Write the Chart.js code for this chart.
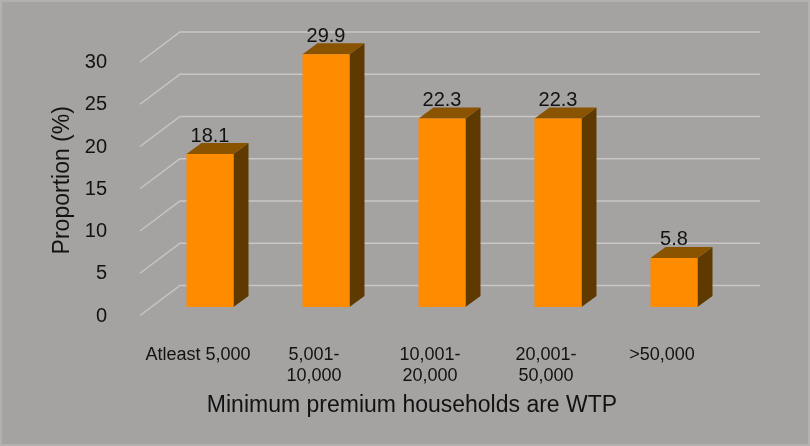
<!DOCTYPE html>
<html lang="en">
<head>
    <meta charset="UTF-8">
    <title>Minimum premium households are WTP</title>
    <script src="https://cdn.jsdelivr.net/npm/chart.js"></script>
    <style>
        html, body {
            margin: 0;
            padding: 0;
            background: #a5a3a2;
        }
        .wrap {
            position: relative;
            width: 810px;
            height: 446px;
        }
        .frame {
            position: absolute;
            left: 0; top: 0; right: 0; bottom: 0;
            border: 2px solid #b3b1b0;
            pointer-events: none;
        }
    </style>
</head>
<body>
    <div class="wrap">
        <canvas id="wtpChart" width="810" height="446"></canvas>
        <div class="frame"></div>
    </div>

    <script>
        // data
        const categories = ['Atleast 5,000', ['5,001-', '10,000'], ['10,001-', '20,000'], ['20,001-', '50,000'], '>50,000'];
        const proportions = [18.1, 29.9, 22.3, 22.3, 5.8];
        const yTickValues = [0, 5, 10, 15, 20, 25, 30];
        const yTitle = 'Proportion (%)';
        const xTitle = 'Minimum premium households are WTP';

        const FONT = '"Liberation Sans", Arial, sans-serif';
        const TEXT = '#121212';
        const GRID = '#c9c7c6';

        // fake 3d: bar depth and the floor/wall offsets
        const DX = 15, DY = 11;
        const FRONT = { dx: -12, dy: 8.5 };
        const BACK = { dx: 28, dy: -21.5 };

        const depthPlugin = {
            id: 'depth3d',
            beforeDatasetsDraw(chart) {
                const { ctx, chartArea, scales } = chart;
                const ys = scales.y;
                ctx.save();
                ctx.strokeStyle = GRID;
                ctx.lineWidth = 1.3;
                ys.ticks.forEach(t => {
                    const py = ys.getPixelForValue(t.value);
                    ctx.beginPath();
                    ctx.moveTo(chartArea.left + FRONT.dx, py + FRONT.dy);
                    ctx.lineTo(chartArea.left + BACK.dx, py + BACK.dy);
                    ctx.lineTo(chartArea.right + BACK.dx, py + BACK.dy);
                    ctx.stroke();
                });

                chart.getDatasetMeta(0).data.forEach(bar => {
                    const p = bar.getProps(['x', 'y', 'base', 'width'], true);
                    const l = p.x - p.width / 2, r = p.x + p.width / 2;
                    // side
                    ctx.fillStyle = '#5f3a00';
                    ctx.beginPath();
                    ctx.moveTo(r, p.y);
                    ctx.lineTo(r + DX, p.y - DY);
                    ctx.lineTo(r + DX, p.base - DY);
                    ctx.lineTo(r, p.base);
                    ctx.closePath();
                    ctx.fill();
                    // top
                    ctx.fillStyle = '#8a5300';
                    ctx.beginPath();
                    ctx.moveTo(l, p.y);
                    ctx.lineTo(l + DX, p.y - DY);
                    ctx.lineTo(r + DX, p.y - DY);
                    ctx.lineTo(r, p.y);
                    ctx.closePath();
                    ctx.fill();
                });
                ctx.restore();
            },
            afterDatasetsDraw(chart) {
                const { ctx } = chart;
                const vals = chart.data.datasets[0].data;
                ctx.save();
                ctx.font = '20px ' + FONT;
                ctx.fillStyle = TEXT;
                ctx.textAlign = 'center';
                ctx.textBaseline = 'alphabetic';
                chart.getDatasetMeta(0).data.forEach((bar, i) => {
                    ctx.fillText(vals[i].toFixed(1), bar.x, bar.y - 12.5);
                });
                ctx.restore();
            }
        };

        new Chart(document.getElementById('wtpChart'), {
            type: 'bar',
            data: {
                labels: categories,
                datasets: [{
                    data: proportions,
                    backgroundColor: '#ff8c00',
                    borderWidth: 0,
                    barPercentage: 0.405,
                    categoryPercentage: 1
                }]
            },
            options: {
                responsive: false,
                animation: false,
                layout: { padding: { left: 14, right: 0, top: 53.5, bottom: 0 } },
                plugins: {
                    legend: { display: false },
                    tooltip: { enabled: false },
                    title: {
                        display: true,
                        position: 'bottom',
                        text: xTitle,
                        color: TEXT,
                        font: { family: FONT, size: 23, weight: 'normal', lineHeight: 1.2 },
                        padding: { top: 4.5, bottom: 26.9 }
                    }
                },
                scales: {
                    x: {
                        grid: { display: false },
                        border: { display: false },
                        ticks: {
                            color: TEXT,
                            font: { family: FONT, size: 18, lineHeight: 1.2 },
                            padding: 29,
                            labelOffset: -12,
                            maxRotation: 0,
                            autoSkip: false
                        },
                        afterFit(s) { s.height = 80; }
                    },
                    y: {
                        min: 0,
                        max: 30,
                        grid: { display: false },
                        border: { display: false },
                        afterBuildTicks(s) { s.ticks = yTickValues.map(v => ({ value: v })); },
                        ticks: {
                            color: TEXT,
                            font: { family: FONT, size: 20 },
                            padding: 37,
                            labelOffset: 9
                        },
                        title: {
                            display: true,
                            text: yTitle,
                            color: TEXT,
                            font: { family: FONT, size: 23, lineHeight: 1.2 },
                            padding: { top: 35, bottom: 0 }
                        },
                        afterFit(s) { s.width = 138; }
                    },
                    // empty right-hand axis, only keeps room for the back wall
                    yR: {
                        position: 'right',
                        display: true,
                        grid: { display: false },
                        border: { display: false },
                        ticks: { display: false },
                        afterFit(s) { s.width = 78; }
                    }
                }
            },
            plugins: [depthPlugin]
        });
    </script>
</body>
</html>
